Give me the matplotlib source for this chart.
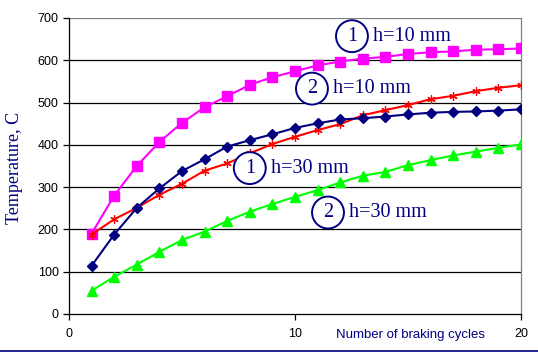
import numpy as np
import matplotlib.pyplot as plt
from matplotlib.lines import Line2D

# Data
cycles = np.arange(1, 21)
t_mag = [190, 280, 350, 407, 452, 489, 515, 542, 560, 574,
         588, 597, 604, 608, 615, 619, 621, 625, 626, 628]
t_red = [188, 224, 251, 282, 308, 339, 356, 380, 402, 419,
         435, 449, 470, 482, 494, 508, 516, 527, 535, 541]
t_navy = [114, 188, 251, 297, 338, 366, 396, 411, 425, 440,
          451, 460, 463, 467, 472, 476, 478, 479, 481, 484]
t_green = [55, 88, 117, 147, 175, 195, 220, 242, 260, 277,
           293, 311, 327, 336, 352, 364, 375, 384, 393, 401]

labels = ["1", "2", "1", "2"]
label_txt = ["h=10 mm", "h=10 mm", "h=30 mm", "h=30 mm"]
label_pos = [(12.52, 657), (10.75, 533), (8.0, 345), (11.46, 240)]

navy = '#000080'

fig = plt.figure(figsize=(5.38, 3.52), dpi=100)
ax = fig.add_axes([69/538, 1 - 314/352, (521-69)/538, (314-18)/352])

ax.plot(cycles, t_mag, color='#ff00ff', lw=1.5, marker='s', ms=6.5, zorder=3)
ax.plot(cycles, t_red, color='#ff0000', lw=1.5, marker=(6, 2, 0), ms=6,
        mew=0.9, zorder=3)
ax.plot(cycles, t_navy, color=navy, lw=1.5, marker='D', ms=5.5, zorder=4)
ax.plot(cycles, t_green, color='#00ff00', lw=1.5, marker='^', ms=7, zorder=3)

ax.set_xlim(0, 20)
ax.set_ylim(0, 700)
ax.set_xticks([0, 10, 20])
ax.set_yticks(range(0, 701, 100))
for v in range(100, 700, 100):
    ax.axhline(v, color='black', lw=0.9, zorder=1)
ax.axhline(700, color='#808080', lw=0.9, zorder=1)

ax.spines['top'].set_visible(False)
ax.spines['right'].set_color('#808080')
ax.spines['left'].set_color('black')
ax.spines['bottom'].set_color('black')
for s in ax.spines.values():
    s.set_linewidth(0.9)

ax.tick_params(axis='both', direction='out', length=4, width=0.9,
               labelsize=9, colors='black')
ax.tick_params(axis='x', pad=6)
for lab in ax.get_xticklabels() + ax.get_yticklabels():
    lab.set_family('Liberation Sans')

for num, txt, (x, y) in zip(labels, label_txt, label_pos):
    ax.text(x, y, num, ha='center', va='center', color=navy,
            family='Liberation Serif', fontsize=14.5, zorder=5,
            bbox=dict(boxstyle='circle,pad=0.32', fc='white', ec=navy, lw=1.4))
    ax.text(x + 0.93, y, txt, ha='left', va='center', color=navy,
            family='Liberation Serif', fontsize=14.5, zorder=5)

fig.text(15/538, 1 - 168/352, 'Temperature, C', rotation=90, ha='center',
         va='center', color=navy, family='Liberation Serif', fontsize=13)
fig.text(410/538, 1 - 335/352, 'Number of braking cycles', ha='center',
         va='center', color=navy, family='Liberation Sans', fontsize=9.5)

fig.add_artist(Line2D([0, 1], [1 - 351/352, 1 - 351/352], color=navy, lw=1.2,
                      transform=fig.transFigure))

fig.savefig('out.png', dpi=100)
